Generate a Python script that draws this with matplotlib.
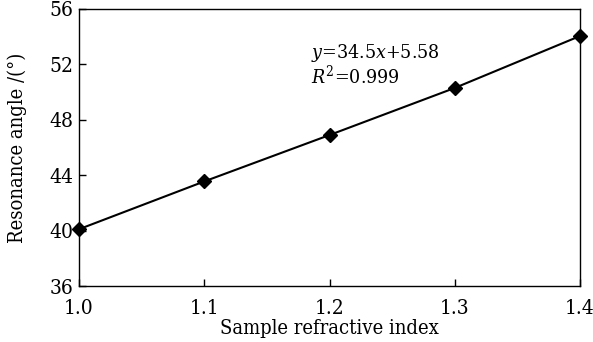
import matplotlib
matplotlib.use("Agg")
import matplotlib.pyplot as plt

plt.rcParams['font.family'] = ['DejaVu Serif']
plt.rcParams['font.stretch'] = 'condensed'
plt.rcParams['mathtext.fontset'] = 'custom'
plt.rcParams['mathtext.rm'] = 'DejaVu Serif:stretch=condensed'
plt.rcParams['mathtext.it'] = 'DejaVu Serif:italic:stretch=condensed'

refractive_index = [1.0, 1.1, 1.2, 1.3, 1.4]
resonance_angle = [40.1, 43.55, 46.9, 50.3, 54.05]
x_ticks = [1.0, 1.1, 1.2, 1.3, 1.4]
y_ticks = [36, 40, 44, 48, 52, 56]

fig = plt.figure(figsize=(5.93, 3.42), dpi=100)
ax = fig.add_axes([79/593, 1-286/342, (580-79)/593, (286-9)/342])
ax.plot(refractive_index, resonance_angle, color='black', lw=1.5,
        marker='D', markersize=7, markerfacecolor='black', clip_on=False, zorder=3)
ax.set_xlim(1.0, 1.4)
ax.set_ylim(36, 56)
ax.set_xticks(x_ticks)
ax.set_xticklabels([f"{v:.1f}" for v in x_ticks])
ax.set_yticks(y_ticks)
ax.tick_params(direction='in', length=5, width=1, labelsize=15, colors='black', pad=4)
ax.tick_params(axis='x', pad=9)
for s in ax.spines.values():
    s.set_linewidth(1)
ax.set_xlabel("Sample refractive index", fontsize=14.5, labelpad=1)
ax.set_ylabel("Resonance angle /(°)", fontsize=14.5, labelpad=16)
ax.text(1.185, 52.0, r"$y$=34.5$x$+5.58", fontsize=14, va='bottom', ha='left')
ax.text(1.185, 50.3, r"$R^2$=0.999", fontsize=14, va='bottom', ha='left')
fig.savefig("out.png", dpi=100)
